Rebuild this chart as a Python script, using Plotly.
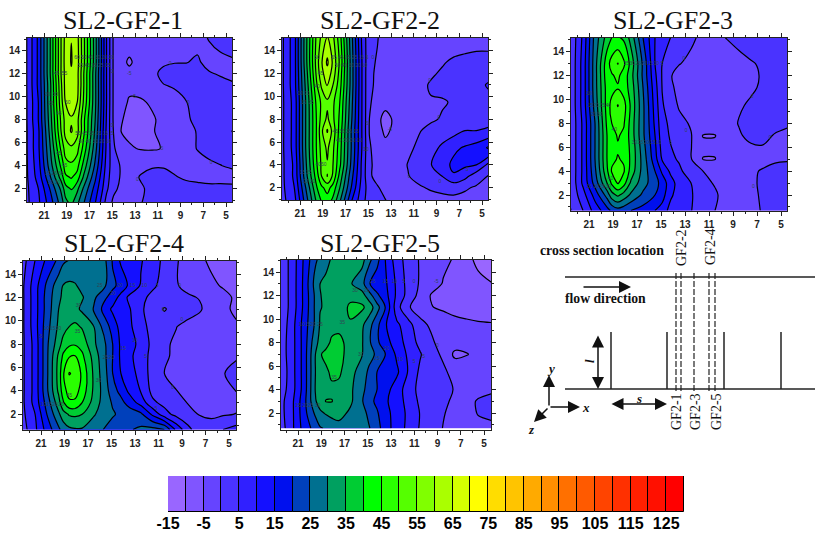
import plotly.graph_objects as go

W, H = 819, 535
TITLES = ["SL2-GF2-1", "SL2-GF2-2", "SL2-GF2-3", "SL2-GF2-4", "SL2-GF2-5"]
X = [22.7,21.5,20.5,19.5,19.1,18.6,18.1,17.5,16.5,15.5,14.9,14.2,13.5,12.5,11.5,10.5,9.5,8.5,7.5,6.5,5.5,4.3]
Y = [0.7,2,3,4,5.5,7,8,9.5,11,12,13,15.2]
Y3 = [0.7,2,3,4,5,6,7,8,9.5,11,12,13,15.2]

Z1 = [
[3,9,17,27,33,36,31,25,15,3,-1,-2,-2,-0.1,1,1.5,1.5,1.5,1.5,1.5,1.5,1.5],
[3,10,20,31,38,40.5,36.5,29,18,6,1,-1,-2,-0.5,1,1.5,2,2,1.5,1,1,0.8],
[3,12,24,37,44,45.5,43,34,21,7,2,-0.5,-1.5,0.3,1,1.8,0.4,-0.8,-1.2,-1.3,-1.3,-1.3],
[3,13,27,41,48,49,47,38,24,8,2,-0.5,-2,-1,-0.3,-0.5,-1.5,-2,-1.5,-0.6,-0.1,0.6],
[3,14,29,46,52.5,54,52,43,27,9,1,-4,-4.5,-5.3,-5.5,-4.8,-3,-1.5,0.2,1,1.5,2],
[3,14,31,50,57,60.5,57,46,29,9,0,-5.1,-6,-6,-5.3,-4,-2.5,-1,0.2,1.5,2,5.5],
[3,15,32,51,57,59.5,57,46,30,9.5,-0.5,-4.8,-5.8,-6,-5.5,-4,-2,-0.5,0.8,2,2,2.5],
[3,15,33,53,60.2,62,60.2,49,31,10,-0.5,-3.5,-5.5,-5.5,-4.5,-3.5,-1,-0.1,1,2,2,2],
[3,16,33,54,62,64.8,62,50,31,10,-0.5,-3,-4,-3.5,-1,-0.1,0.3,1,1.2,1.2,1,0.3],
[3,16,34,55,62,64.5,62,50,31,10,-0.5,-3,-4,-3,-0.8,0.8,1,1.2,1,0.3,-0.3,-0.8],
[3,16,34,55,62.5,65.3,62.5,51,32,10,-0.5,-4,-5.5,-3.5,-2,-0.5,-0.1,-0.1,0.4,-1,-1,-1],
[3,16,34,55,62,64.9,62,51,32,10,-0.5,-3,-3,-3,-3,-3,-3,-3,-1,0.2,1.5,5],
]
Z2 = [
[3,8,22,36,40,42,38,30,15,6,3,1.5,0.3,-1.5,-2,-2,-2,-1.5,-1.5,-1.5,-1.5,-1],
[3,10,25,40,44,47,43,35,20,7,3,0.3,-1,-2,-1.5,-0.5,0.5,1,1.5,0.5,-0.5,-1],
[3,11,28,43,50,55.1,49,38,22,8,0.5,-1,-2,-1.5,-0.2,1.5,3,5,9.5,6.5,2,-0.5],
[3,11,29,45,51,54.6,50,41,24,8,0.8,-1.5,-3,-2,0.2,2,4.8,8,11,11,10,3],
[3,12,30,46,52,56,51,42,25,9,0.5,-2,-3.5,-3,-0.8,0.8,3,6,9,10.5,12,16],
[3,12,30,46,54,60.5,53,43,25,9,-0.2,-3,-6,-3.5,-2,-0.2,1,2,3,5,5,6],
[3,12,30,46,52,56,51,44,26,9,0,-3,-7.5,-3,-2,-1,-0.5,0.3,0.3,1.5,2.5,3],
[3,12,30,47,51,54,51,45,27,9,0.3,-1,-2.5,-2.5,-2,-1,-0.2,-0.3,0.3,1.5,2.5,3],
[3,13,31,50,56,60.5,55,47,28,9,0.5,-0.5,-2,-2.5,-2,-0.8,0.3,1,1.5,2,3,6],
[3,13,32,52,58.5,63,58,48,28,9,0.5,-0.4,-2,-2,-2,-1.5,-0.4,0.4,1,1.5,2,2.5],
[3,13,33,53,59.5,66,59,49,28,9,0.8,-0.3,-2,-2,-2,-2,-1.5,-0.3,0.5,1,1.5,1.5],
[3,13,33,52,56,60,56,47,27,8,1.5,0.2,-1.5,-2.5,-2.5,-2.5,-2.5,-2.5,-2,-2,-2,-2],
]
Z3 = [
[-1,5,12,18,21,23,22,20,18,15,13,8,6,5.2,2,0,-2,-2,-1,0.3,1,1.5],
[0,8,17,27,33,36,33,29,24,20,17,11,7.5,5.5,2,0.5,-1.5,-2,-0.8,0.5,1,1.5],
[-1,11,22,35,41,45.5,42,34,27,22,18,12,8,5,1,-0.3,-2,-2.5,-0.5,0.5,1,1.5],
[-1,11,24,39,45.5,47,45.5,38,28,20,14,9,6,2.5,0,-2,-3,-3,-0.5,0.3,1,1.2],
[-1,11,25,40,44,45.3,44.5,39,28,17,9.5,6,4.5,0.3,-5.1,-5.1,-3,-3,-2,-1,-0.5,-0.3],
[-1,11,25,40,42.5,44.5,43,39,27,16,8,5.2,3.5,0.2,-4.5,-4.5,-3.2,-1.5,-0.5,-0.2,-0.6,-0.8],
[-1,11,25,40,43,45.5,44,38,26,15,7,4.5,2.5,0.3,-5.1,-5.1,-3.5,-0.4,1,0.8,-0.2,-1],
[-1,11,25,41,45,47,45.5,38,26,14,6.5,4,1.5,-0.5,-3,-3,-1.5,0.2,1.5,1.5,1,0.5],
[-1,12,27,42,47,50.2,47,39,26,13,5.5,2.5,-0.5,-2,-3,-3,-1.5,-0.4,0.5,1.5,2,2],
[-1,12,28,42,43,44.5,42.5,38,25,12,4.8,1,-1.5,-3,-3,-3,-3,-2,-0.5,0.5,1.5,2],
[-1,12,28,43,44.5,46,43,37,24,11,4.6,0.3,-1.5,-3,-3,-3,-3,-2.5,-0.8,0.4,1.5,2],
[-1,12,28,43,47,50.2,46,38,24,10,5,3,0.2,-1,-2.5,-3,-2.5,-1.5,-0.3,0.5,1.5,2],
[-1,11,27,37,40,40.5,39,33,20,10,8,5,3.5,0.8,-1,-1,0.2,1.5,2,2,2,2],
]
Z4 = [
[2,9,17,24,27,29,29.5,29.5,27,24.5,23,23,24.5,26,26.5,25,14,6.5,2,2,5,7],
[3,10,20,29,33,35.5,36,35,30.5,27,25.5,24,23,21,14,7,3.5,1.5,-0.2,-0.8,-0.5,0.2],
[3,12,22,33,39.5,44,44,40,33,27,24.5,21.5,18,13,6,3.5,2,-0.2,-1.5,-1.5,-1.5,-1.2],
[3,12,24,36,43,47,47,43,34,27,22,18.5,14,9.7,3.5,2.5,0.1,-1,-2,-2,-1.5,0.2],
[3,12,24,37,44.5,50.3,49,44,34,26,20,15,12.5,8,3,0,-1,-2,-2,-2,-0.5,3.5],
[3,12,24,36,41,44.5,45,41,33,25.3,20,14,11,8,3,0.8,-1,-2,-2,-2,-1.5,-1],
[3,12,24,33,37,39,39.5,38,31,25,20,14,12,8.5,3.5,0.5,-0.5,-1.5,-2,-2,-2,-2],
[3,13,23,31,33,35,36,34.5,30,22,18,13,11,7,3,2,0.1,-1,-2,-2.5,-3,-4.5],
[3,13,22,30,32,32.5,31.5,29,24.5,17.5,14,12,10.5,6,2,-0.3,1.5,1.5,0.5,-2,-4,-6],
[3,13,22,29,31,32,32,30.5,26,20.5,18,13,9,6.5,3.5,2,1.5,0.5,-0.2,-2,-3.5,-6],
[3,13,21,28,30.3,31,30.5,28.5,26,25,21,18.5,14,9.5,6,3,0.3,-1,-2,-4,-5.5,-7],
[2,10,16,21,24,25,25.5,26,27,25.2,19.5,14,13,10.5,7,4,0.5,-2,-4,-6,-7,-8],
]
Z5 = [
[1,9,17,22,24.5,25.5,27,28,29,27,25.5,21.5,18,12,9,4.5,2.5,-0.2,-1,-1.5,-1.5,-0.5],
[2,9,18,26,29,30.5,31.5,32,29,27.5,23.5,20.5,17,12.5,9,4.8,2.5,0.3,-1.5,-2,0.3,0.5],
[2,9,18,29.5,32.5,35.2,35.2,33,31,25.5,21.5,19,16,12,8.5,4,2,0.8,-0.8,-1,0.3,0.8],
[1,8,17,30.3,32.5,33.5,34,33.5,30.8,27,22,20,17,12.5,7.5,3.5,2,1,-0.2,-2,-1,-0.4],
[0,8,17,30,33,34,36,36,31.5,28,24,20,17.5,16,9.5,4,2,0.5,-1,-2.5,-3,-3],
[1,8,17,30,34.5,36.5,37.5,37.5,32,30.3,27,24,20.3,14,9,5.5,1,-0.5,-6.2,-5.2,-4,-3],
[1,8,17,28.5,31.5,33,36,36.5,33,30.5,26,21,17,12.5,8,3.5,0.5,-1.5,-2.5,-3.5,-3.5,-3],
[0,8,17,26,30.5,31,33,33.5,34.5,31,27,21.5,15.5,11,7,1,-0.6,-1.5,-3,-4,-4.5,-4.7],
[0,7,16,26,29.8,30.5,31,32,36,36,33,27,20,7,0.3,-1.5,-4.8,-6,-7,-7,-7,-7],
[0,7,16,26,29.8,31,31.5,32,33.5,32,27.5,21,17,9,3,-1.5,-5.5,-7,-7,-7.5,-7.5,-7.5],
[0,7,16,27,30,31,31.5,32,30.5,27,20.5,17,16,9,3,-0.5,-3,-5.3,-7,-8,-9,-9.8],
[0,7,15.5,24,26,28.5,30.3,32,33,32,27,22,15,7,3,-0.5,-2,-4,-5.3,-9,-11,-15.5],
]

# Contour labels: (y, x positions, texts)
L1 = [(13.4,[18.1,17.5,16.9,16.3,15.7,15.1],["60","50","40","30","20","10"]),
      (12.7,[17.8,17.2,16.6,16,15.4],["55","45","35","25","15"]),
      (6.8,[18,17.4,16.8,16.2,15.6,15],["55","45","35","25","15","5"]),
      (6.1,[17.7,17.1,16.5,15.9,15.3],["50","40","30","20","10"]),
      (3.3,[20.7,20.1,19.5],["15","25","35"]),(2.5,[20.4,19.8],["20","30"]),
      (12,[19.9,19.2],["45","55"]),(10.2,[20.7,20],["20","30"]),(9.4,[20.4],["25"]),
      (9.5,[18.9],["60"]),(8.5,[19.7],["45"]),(5,[19.7],["45"]),(4,[19.2],["45"]),
      (12,[13.5],["-5"]),(12.9,[9.9],["0"]),(10,[13.1],["-5"]),(9.5,[8.3],["0"]),(5.5,[10.7],["-5"]),
      (4.3,[6.3],["0"]),(2.8,[12.8],["0"]),(12.2,[15],["0"]),(7.5,[15],["0"])]
L2 = [(13.4,[19.5,18,17.4,16.8,16.2,15.6],["50","55","45","35","25","15"]),
      (12.7,[17.7,17.1,16.5,15.9,15.3],["50","40","30","20","10"]),
      (10.2,[21,20.4],["10","20"]),(9.4,[20.7,20],["15","25"]),
      (6.9,[17.9,17.3,16.7,16.1],["45","35","25","15"]),(6.1,[17.6,17,16.4,15.8],["40","30","20","10"]),
      (3.3,[20.8,20.2],["15","25"]),(2.5,[20.5,19.9],["20","30"]),
      (12,[19.2],["45"]),(10.8,[19.5],["40"]),(4,[19.4,18.9],["40","50"]),
      (13.4,[14.6],["0"]),(13.4,[15.1],["5"]),(7.6,[15.1],["5"]),(5.3,[15.2],["10"]),
      (7.1,[13.1],["-5"]),(11.4,[9.6],["0"]),(8.1,[8.8],["0"]),(3,[11.4],["0"]),(2.5,[8.7],["0"]),(3.6,[6.3],["5"])]
L3 = [(13,[17.9,17.4,16.9,16.4,15.9,15.4,14.9],["35","30","25","20","15","10","5"]),
      (10.5,[21],["10"]),(9.5,[20.9,20.4,19.9,19.4],["15","20","25","40"]),(8.7,[20.6,20.1],["20","30"]),
      (6.4,[17.2,16.7,16.2,15.7,15.2,14.2],["30","25","20","15","10","5"]),
      (2.7,[21,20.4,19.9,19.4],["15","20","25","30"]),(3.4,[19.2],["40"]),(7.5,[18.9],["40"]),
      (13.4,[13.1],["0"]),(7.4,[12.9],["0"]),(10.2,[7.4],["0"]),(6.8,[5.9],["0"]),(2.7,[7.3],["0"])]
L4 = [(9.3,[20.5,20,19.5],["10","15","20"]),(8.6,[21],["5"]),(2.8,[20.8,20.3,19.8,19.3],["10","15","20","25"]),
      (13,[16,14.3,13.2,12.2,11.1,9.2],["25","20","15","10","5","0"]),(12.3,[14.9],["20"]),
      (11.3,[17.8],["30"]),(9.1,[17.9],["35"]),(8.3,[13],["10"]),(7.6,[14],["15"]),
      (6.8,[15.5,15],["25","20"]),(6.9,[12.1],["5"]),(4.9,[16.1],["30"]),(3.6,[18.6],["45"]),
      (10.1,[9],["0"]),(10.9,[10.6],["0"]),(4.3,[9.8],["0"]),(2.5,[11.2],["5"])]
L5 = [(9.5,[20.7,20.2,19.7,19.1],["10","15","20","25"]),(2.6,[21,20.4,19.9,19.3],["15","20","25","30"]),
      (13.2,[14.6,13.5,12.7,11.9,11,9.1],["25","15","10","5","0","-5"]),(12.4,[16.1,15.1],["30","25"]),
      (7,[15.6],["30"]),(9.7,[17.2],["35"]),(5,[17.9],["35"]),(6.6,[14.2],["25"]),(7.5,[13.4],["20"]),
      (6.5,[12.2],["10"]),(6.4,[11],["5"]),(6.8,[10.2],["5"]),(7.7,[9],["0"])]
LABELS = [L1, L2, L3, L4, L5]

LEVELS = list(range(-15, 130, 5))
TICKS = list(range(-15, 130, 10))
COLORS = ["#9966ff","#8055ff","#6644ff","#4a33ff","#3020ff","#1410ff","#0010ee","#0040bb","#007090",
          "#00a060","#00cc33","#00ff00","#2aff00","#55ff00","#80ff00","#aaff00","#d5ff00","#ffff00",
          "#ffdd00","#ffc400","#ffaa00","#ff8e00","#ff7000","#ff5a00","#ff4400","#ff3000","#ff2000",
          "#ff1000","#ff0000"]

# geometry in pixels: left, right, top, bottom, px of x=21, px of x=5, py of y=14, py of y=2
GEOM = [(27,232,38,202,44,226,50.7,188.7),(282,488,38,200,300,482,50.7,187.7),
        (571,787,38,211,589,781,51.7,195),(23,236,261,430,41,229,274,414.3),
        (281,491,260,430,298,484,272,413)]
TITLE_POS = [(123,20),(380,20),(673,20),(123.5,244),(380,244)]

px = lambda v: v / W
py = lambda v: 1 - v / H
n = len(COLORS)
scale = []
for i, c in enumerate(COLORS):
    scale += [[i / n, c], [(i + 1) / n, c]]

SANS = "Liberation Sans"
SERIF = "Liberation Serif"
fig = go.Figure()
layout = {}
annots = []
shapes = []
bold = lambda vals: ["<b>%d</b>" % v for v in vals]
for i, (z, geo, title) in enumerate(zip([Z1, Z2, Z3, Z4, Z5], GEOM, TITLES)):
    l, r, t, b, p21, p5, p14, p2 = geo
    ax = str(i + 1) if i else ""
    fig.add_trace(go.Contour(
        x=X, y=Y3 if i == 2 else Y, z=z, xaxis="x" + ax, yaxis="y" + ax,
        autocontour=False, contours=dict(start=-15, end=130, size=5, coloring="fill"),
        colorscale=scale, zmin=-15, zmax=130, showscale=False,
        line=dict(color="black", width=1.2, smoothing=1.0), hoverinfo="skip"))
    lx, ly, lt = [], [], []
    for yy, xs, ts in LABELS[i]:
        lx += xs; ly += [yy] * len(xs); lt += ts
    fig.add_trace(go.Scatter(x=lx, y=ly, text=lt, mode="text", xaxis="x" + ax, yaxis="y" + ax,
                             textfont=dict(family=SANS, size=5, color="#334455"),
                             showlegend=False, hoverinfo="skip"))
    xr = [21 - (l - p21) * 16 / (p5 - p21), 21 - (r - p21) * 16 / (p5 - p21)]
    yr = [14 - (b - p14) * 12 / (p2 - p14), 14 - (t - p14) * 12 / (p2 - p14)]
    common = dict(showline=True, linecolor="#222222", linewidth=1, mirror="ticks", ticks="outside",
                  ticklen=4, tickwidth=1, tickcolor="#222222", showgrid=False, zeroline=False, automargin=False,
                  tickfont=dict(family=SANS, size=10, color="#222222"))
    xt = list(range(5, 22, 2))
    yt = list(range(2, 15, 2))
    layout["xaxis" + ax] = dict(domain=[px(l), px(r)], range=xr, anchor="y" + ax, tickmode="array",
                                tickvals=xt, ticktext=bold(xt), minor=dict(dtick=1, ticks="outside", ticklen=2, tickcolor="#222222"),
                                **common)
    layout["yaxis" + ax] = dict(domain=[py(b), py(t)], range=yr, anchor="x" + ax, tickmode="array",
                                tickvals=yt, ticktext=bold(yt), minor=dict(dtick=1, ticks="outside", ticklen=2, tickcolor="#222222"),
                                **common)
    tx, ty = TITLE_POS[i]
    annots.append(dict(text=title, x=px(tx), y=py(ty), xref="paper", yref="paper", showarrow=False,
                       xanchor="center", yanchor="middle",
                       font=dict(family=SERIF, size=26, color="#111111")))

# colour legend
fig.add_trace(go.Bar(x=[v + 2.5 for v in LEVELS], y=[1] * n, width=5, marker=dict(color=COLORS, line=dict(color="black", width=1)),
                     xaxis="x6", yaxis="y6", showlegend=False, hoverinfo="skip"))
layout["xaxis6"] = dict(domain=[px(168), px(684)], range=[-15, 130], anchor="y6", tickmode="array", tickvals=TICKS, ticktext=bold(TICKS),
                        ticks="", showline=False, showgrid=False, zeroline=False, automargin=False,
                        tickfont=dict(family=SANS, size=16, color="black"))
layout["yaxis6"] = dict(domain=[py(512), py(476)], range=[0, 1], anchor="x6", visible=False, automargin=False)

# schematic
def seg(x0, y0, x1, y1, width=1.5, dash="solid", color="#222222"):
    shapes.append(dict(type="line", xref="paper", yref="paper", x0=px(x0), y0=py(y0), x1=px(x1), y1=py(y1),
                       line=dict(color=color, width=width, dash=dash)))
seg(565, 277, 815, 277)
seg(565, 389, 815, 389)
for fx in [611, 667, 724, 781]:
    seg(fx, 332, fx, 389)
for dx in [676, 681, 694, 709, 715]:
    seg(dx, 273, dx, 393, width=1.2, dash="6px,2px")

def arrow(x0, y0, x1, y1, both=False):
    annots.append(dict(x=px(x1), y=py(y1), xref="paper", yref="paper", ax=x0 - x1, ay=y0 - y1, axref="pixel", ayref="pixel",
                       text="", showarrow=True, arrowhead=2, arrowsize=1.6, arrowwidth=1.5, arrowcolor="#111111",
                       arrowside="end+start" if both else "end", standoff=0, startstandoff=0))
arrow(582, 287, 631, 287)
arrow(598, 334, 598, 389, both=True)
arrow(610, 404, 667, 404, both=True)
arrow(549, 407, 549, 375)
arrow(549, 407, 580, 407)
arrow(549, 407, 534, 422)

def label(s, x, y, size=12, is_bold=False, italic=False, angle=0):
    if is_bold:
        s = "<b>" + s + "</b>"
    if italic:
        s = "<i>" + s + "</i>"
    annots.append(dict(text=s, x=px(x), y=py(y), xref="paper", yref="paper", showarrow=False, textangle=angle,
                       xanchor="center", yanchor="middle",
                       font=dict(family=SERIF, size=size, color="#111111")))
label("cross section location", 602, 250, size=13.8, is_bold=True)
label("flow direction", 605, 298, size=13.7, is_bold=True)
label("GF2-2", 681, 248, size=14, angle=-90)
label("GF2-4", 710, 247, size=14, angle=-90)
label("GF2-1", 676, 412, size=14, angle=-90)
label("GF2-3", 695, 412, size=14, angle=-90)
label("GF2-5", 716, 412, size=14, angle=-90)
label("l", 589, 361, size=13, italic=True, is_bold=True, angle=-90)
label("s", 639, 398, size=13, italic=True, is_bold=True)
label("y", 551, 368, size=13, italic=True, is_bold=True)
label("x", 586, 407, size=13, italic=True, is_bold=True)
label("z", 531, 429, size=13, italic=True, is_bold=True)

fig.update_layout(width=W, height=H, margin=dict(l=0, r=0, t=0, b=0), paper_bgcolor="white", plot_bgcolor="white",
                  showlegend=False, annotations=annots, shapes=shapes, bargap=0, **layout)
fig.write_html("out.html", config=dict(displayModeBar=False), post_script="document.body.style.margin='0';")
